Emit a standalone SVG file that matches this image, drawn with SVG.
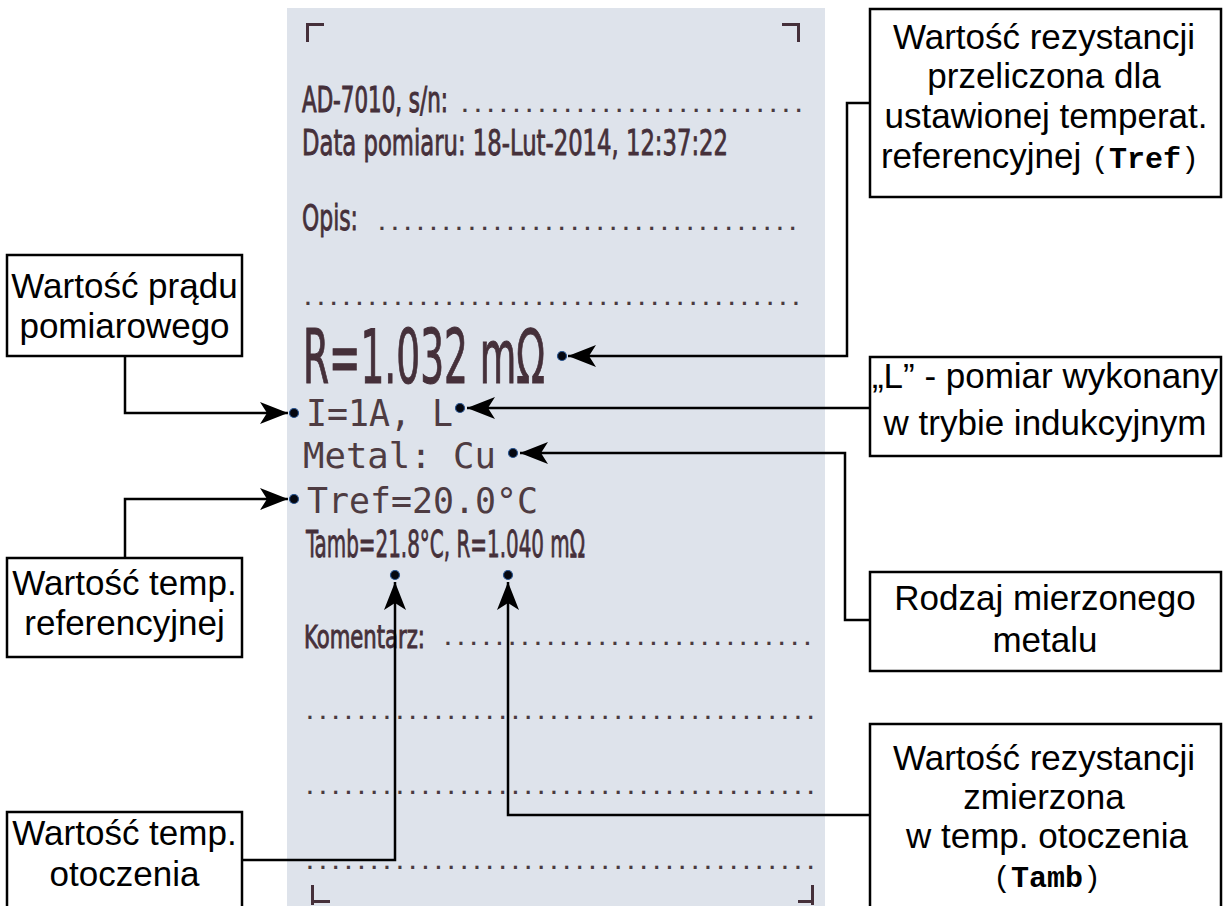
<svg xmlns="http://www.w3.org/2000/svg" width="1223" height="906" viewBox="0 0 1223 906">
<defs>
<style>
.box{fill:#fff;stroke:#000;stroke-width:2.5}
.lbl{font-family:"Liberation Sans",Arial,sans-serif;font-size:35px;fill:#000;text-anchor:middle}
.mono{font-family:"Liberation Mono","Courier New",monospace;font-size:30px}
.b{font-weight:bold}
.conn{fill:none;stroke:#000;stroke-width:2.5}
.dot{fill:#05070f;stroke:#2a5590;stroke-width:1.2}
.rc{font-family:"Liberation Sans Narrow","DejaVu Sans Condensed","Liberation Sans",sans-serif;fill:#45303a;stroke:#45303a;stroke-width:0.8}
.rm{font-family:"DejaVu Sans Mono","Liberation Mono",monospace;fill:#4e3c42}
.dots{font-family:"Liberation Mono","Courier New",monospace;font-size:21.4px;font-weight:bold;fill:#4a3a40}
.mark{fill:#45303a}
</style>
<marker id="ah" markerUnits="userSpaceOnUse" markerWidth="30" markerHeight="24" viewBox="-29 -12 30 24" refX="0" refY="0" orient="auto">
<path d="M0,0 L-28,-11 L-21,0 L-28,11 Z" fill="#000"/>
</marker>
</defs>
<rect x="0" y="0" width="1223" height="906" fill="#fff"/>

<g id="receipt">
<rect x="287" y="8" width="538" height="900" fill="#dee3eb"/>
<rect class="mark" x="306" y="23" width="3" height="19"/>
<rect class="mark" x="306" y="23" width="18" height="3"/>
<rect class="mark" x="782" y="23" width="18" height="3"/>
<rect class="mark" x="797" y="23" width="3" height="19"/>
<rect class="mark" x="311" y="885" width="3" height="20"/>
<rect class="mark" x="311" y="900" width="19" height="3"/>
<rect class="mark" x="811" y="885" width="3" height="20"/>
<rect class="mark" x="798" y="900" width="16" height="3"/>

<text class="rc" transform="translate(302,112) scale(1,1.24)" x="0" y="0" font-size="29" textLength="146" lengthAdjust="spacingAndGlyphs">AD-7010, s/n:</text>
<text class="dots" x="458.6" y="111.5">...........................</text>
<text class="rc" x="302" y="155" font-size="35" textLength="426" lengthAdjust="spacingAndGlyphs">Data pomiaru: 18-Lut-2014, 12:37:22</text>
<text class="rc" x="302" y="230" font-size="35" textLength="56" lengthAdjust="spacingAndGlyphs">Opis:</text>
<text class="dots" x="375.6" y="230">.................................</text>
<text class="dots" x="301.6" y="304.5">.......................................</text>
<text class="rc" transform="translate(303,383) scale(1,1.3)" x="0" y="0" font-size="58" textLength="242" lengthAdjust="spacingAndGlyphs">R=1.032 mΩ</text>
<text class="rm" transform="translate(306,426) scale(1,1.27)" x="0" y="0" font-size="30" textLength="147" lengthAdjust="spacingAndGlyphs">I=1A, L</text>
<text class="rm" x="303" y="468" font-size="35" textLength="193" lengthAdjust="spacingAndGlyphs">Metal: Cu</text>
<text class="rm" x="307" y="513" font-size="36" textLength="231" lengthAdjust="spacingAndGlyphs">Tref=20.0°C</text>
<text class="rc" x="306" y="557" font-size="38" textLength="279" lengthAdjust="spacingAndGlyphs">Tamb=21.8°C, R=1.040 mΩ</text>
<text class="rc" transform="translate(304,648) scale(1,1.14)" x="0" y="0" font-size="28" textLength="121" lengthAdjust="spacingAndGlyphs">Komentarz:</text>
<text class="dots" x="441.6" y="644.5">.............................</text>
<text class="dots" x="303.6" y="718.5">........................................</text>
<text class="dots" x="303.6" y="793.5">........................................</text>
<text class="dots" x="303.6" y="868.5">........................................</text>

<circle class="dot" cx="562" cy="356" r="4.5"/>
<circle class="dot" cx="460" cy="408" r="4.5"/>
<circle class="dot" cx="513" cy="453" r="4.5"/>
<circle class="dot" cx="294" cy="413" r="4.5"/>
<circle class="dot" cx="294" cy="499" r="4.5"/>
<circle class="dot" cx="395" cy="575" r="4.5"/>
<circle class="dot" cx="508" cy="575" r="4.5"/>
</g>

<g id="connectors">
<polyline class="conn" points="870,103 847,103 847,356 568,356" marker-end="url(#ah)"/>
<polyline class="conn" points="870,408 467,408" marker-end="url(#ah)"/>
<polyline class="conn" points="870,620 845,620 845,453 520,453" marker-end="url(#ah)"/>
<polyline class="conn" points="125,356 125,413 288,413" marker-end="url(#ah)"/>
<polyline class="conn" points="125,558 125,499 288,499" marker-end="url(#ah)"/>
<polyline class="conn" points="242,860 395,860 395,582" marker-end="url(#ah)"/>
<polyline class="conn" points="870,815 508,815 508,582" marker-end="url(#ah)"/>
</g>

<g id="box-tref">
<rect class="box" x="870" y="9" width="351" height="188"/>
<text class="lbl" x="1044" y="49">Wartość rezystancji</text>
<text class="lbl" x="1044" y="88">przeliczona dla</text>
<text class="lbl" x="1046" y="128">ustawionej temperat.</text>
<text class="lbl" x="1040" y="168">referencyjnej <tspan class="mono">(</tspan><tspan class="mono b">Tref</tspan><tspan class="mono">)</tspan></text>
</g>

<g id="box-l">
<rect class="box" x="870" y="357" width="351" height="99"/>
<text class="lbl" x="1045" y="388">„L” - pomiar wykonany</text>
<text class="lbl" x="1045" y="435">w trybie indukcyjnym</text>
</g>

<g id="box-metal">
<rect class="box" x="870" y="572" width="351" height="99"/>
<text class="lbl" x="1045" y="610">Rodzaj mierzonego</text>
<text class="lbl" x="1045" y="652">metalu</text>
</g>

<g id="box-tamb">
<rect class="box" x="870" y="724" width="351" height="200"/>
<text class="lbl" x="1044" y="770">Wartość rezystancji</text>
<text class="lbl" x="1044" y="809">zmierzona</text>
<text class="lbl" x="1047" y="848">w temp. otoczenia</text>
<text class="lbl" x="1047" y="887"><tspan class="mono">(</tspan><tspan class="mono b">Tamb</tspan><tspan class="mono">)</tspan></text>
</g>

<g id="box-prad">
<rect class="box" x="7" y="255" width="235" height="101"/>
<text class="lbl" x="124.5" y="298">Wartość prądu</text>
<text class="lbl" x="124.5" y="338">pomiarowego</text>
</g>

<g id="box-tempref">
<rect class="box" x="7" y="558" width="235" height="99"/>
<text class="lbl" x="124.5" y="595">Wartość temp.</text>
<text class="lbl" x="124.5" y="635">referencyjnej</text>
</g>

<g id="box-tempamb">
<rect class="box" x="7" y="812" width="235" height="120"/>
<text class="lbl" x="124.5" y="845">Wartość temp.</text>
<text class="lbl" x="124.5" y="886">otoczenia</text>
</g>
</svg>
